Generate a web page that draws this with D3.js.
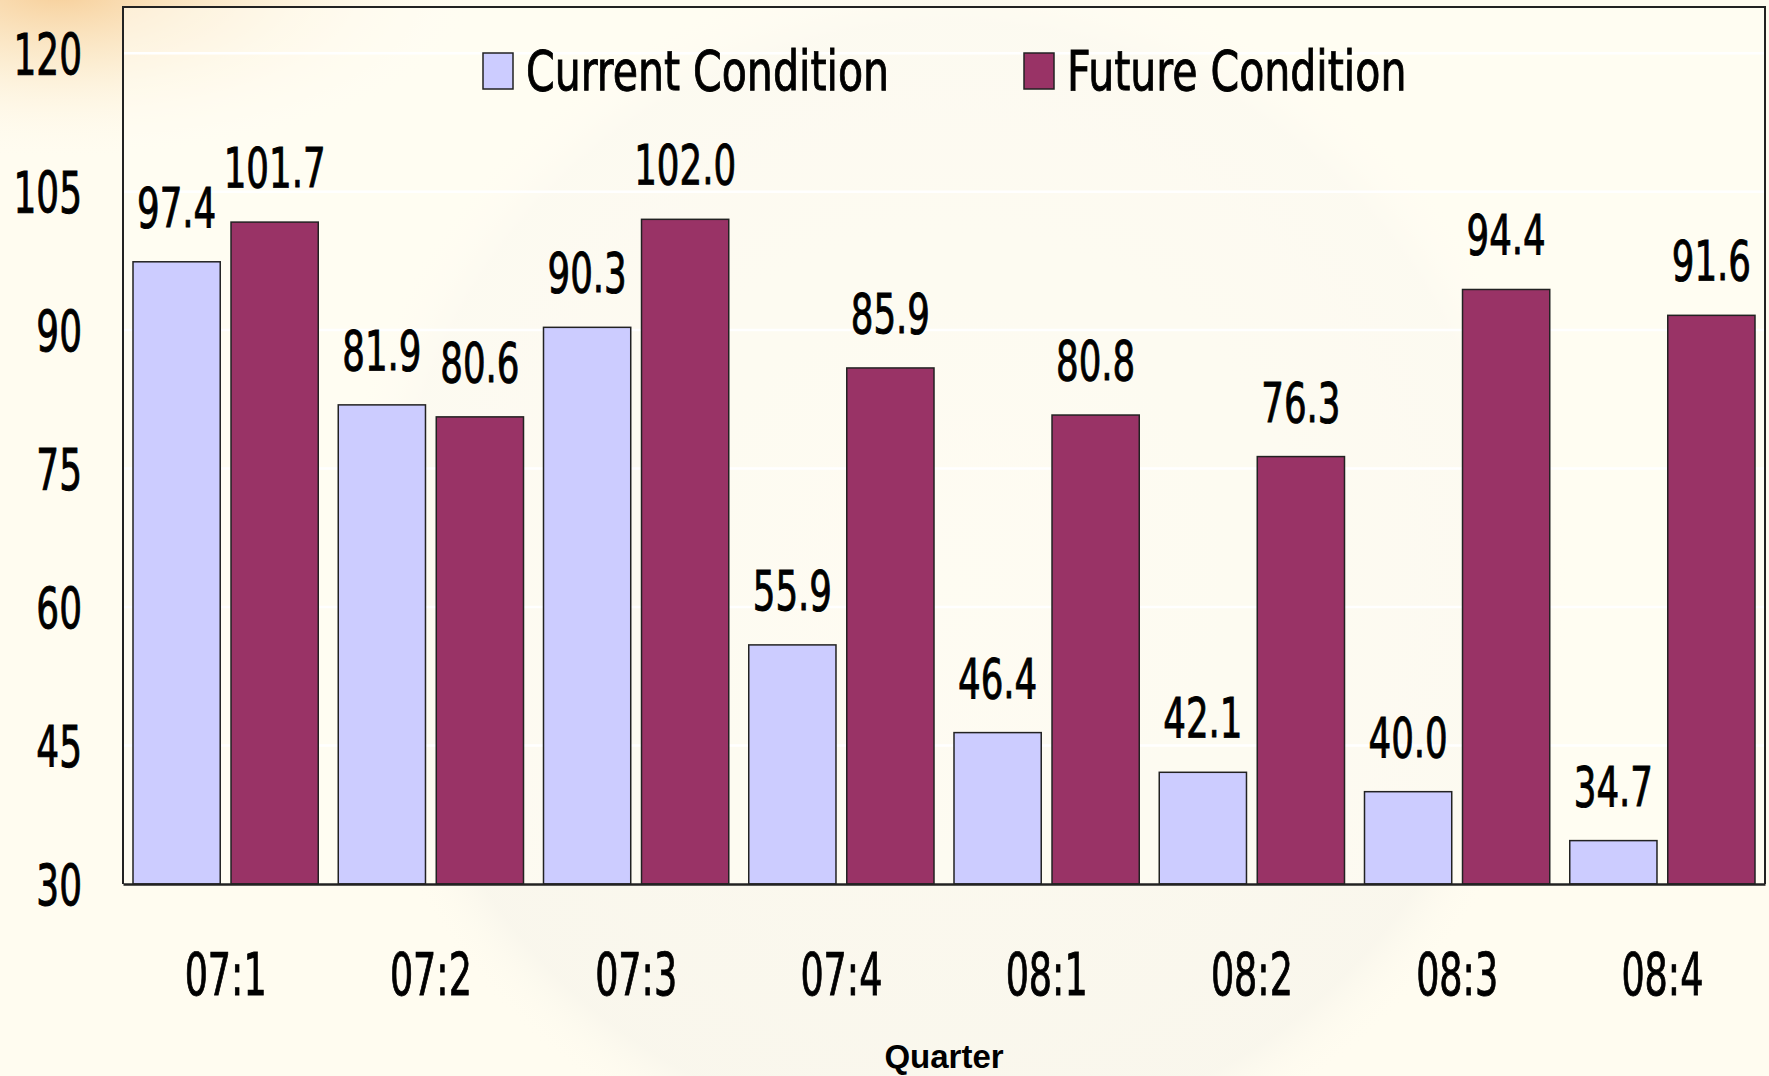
<!DOCTYPE html>
<html>
<head>
<meta charset="utf-8">
<script src="https://cdn.jsdelivr.net/npm/d3@7"></script>
<style>
  html, body { margin: 0; padding: 0; background: #fffcf0; }
  svg { display: block; }
  text { fill: #000; }
</style>
</head>
<body>
<div id="chart"></div>
<script>
const quarters = ['07:1', '07:2', '07:3', '07:4', '08:1', '08:2', '08:3', '08:4']
const currentCondition = [97.4, 81.9, 90.3, 55.9, 46.4, 42.1, 40.0, 34.7]
const futureCondition = [101.7, 80.6, 102.0, 85.9, 80.8, 76.3, 94.4, 91.6]
const seriesNames = ['Current Condition', 'Future Condition']
const yTicks = [30, 45, 60, 75, 90, 105, 120]

const W = 1769, H = 1076
const plotLeft = 123, plotRight = 1765, plotTop = 7, plotBottom = 884
const colors = {'Current Condition': '#ccccff', 'Future Condition': '#993366'}
const condensed = '"Liberation Sans Narrow", "DejaVu Sans Condensed", "Arial Narrow", sans-serif'

let svg = d3.select('#chart').append('svg')
    .attr('width', W)
    .attr('height', H)

// background: cream page with a warm glow top-left and a faint globe
let defs = svg.append('defs')
let glow = defs.append('radialGradient').attr('id', 'glow')
glow.append('stop').attr('offset', '0%').attr('stop-color', '#f6c98e').attr('stop-opacity', 0.9)
glow.append('stop').attr('offset', '45%').attr('stop-color', '#f9dfb5').attr('stop-opacity', 0.5)
glow.append('stop').attr('offset', '100%').attr('stop-color', '#fffcf0').attr('stop-opacity', 0)
let globe = defs.append('radialGradient').attr('id', 'globe')
globe.append('stop').attr('offset', '0%').attr('stop-color', '#efeeea').attr('stop-opacity', 0.15)
globe.append('stop').attr('offset', '90%').attr('stop-color', '#eceae4').attr('stop-opacity', 0.3)
globe.append('stop').attr('offset', '100%').attr('stop-color', '#fffcf0').attr('stop-opacity', 0)

svg.append('rect').attr('width', W).attr('height', H).attr('fill', '#fffcf0')
svg.append('ellipse').attr('cx', 950).attr('cy', 580).attr('rx', 620).attr('ry', 620)
    .attr('fill', 'url(#globe)')
svg.append('ellipse').attr('cx', 60).attr('cy', -10).attr('rx', 420).attr('ry', 170)
    .attr('fill', 'url(#glow)')

let xScale = d3.scaleBand().domain(quarters).range([plotLeft, plotRight]).padding(0)
let bw = xScale.bandwidth()
let xInner = d3.scaleBand().domain(seriesNames).range([10, bw - 10]).paddingInner(0.11)
let yScale = d3.scaleLinear().domain([30, 125]).range([plotBottom, plotTop])

// plot area fill, slightly lighter
svg.append('rect')
    .attr('x', plotLeft).attr('y', plotTop)
    .attr('width', plotRight - plotLeft).attr('height', plotBottom - plotTop)
    .attr('fill', '#fffdf4').attr('fill-opacity', 0.55)

// gridlines
svg.append('g').classed('grid', true)
    .selectAll('line')
    .data(yTicks.filter(d => d > 30))
    .join('line')
    .attr('x1', plotLeft).attr('x2', plotRight)
    .attr('y1', d => yScale(d)).attr('y2', d => yScale(d))
    .attr('stroke', '#ffffff')
    .attr('stroke-width', 2.5)

// squeezed text helper: the source font is narrower than anything installed
function squeezed(sel, sx) {
    return sel.attr('transform', function() {
        let x = +this.getAttribute('data-x'), y = +this.getAttribute('data-y')
        return 'translate(' + x + ',' + y + ') scale(' + sx + ',1)'
    })
    .style('stroke', '#000')
    .style('stroke-width', '0.9px')
}

let rows = quarters.map((q, i) => ({quarter: q, values: [
    {key: seriesNames[0], value: currentCondition[i]},
    {key: seriesNames[1], value: futureCondition[i]}
]}))

let groups = svg.append('g').classed('bars', true)
    .selectAll('g')
    .data(rows)
    .join('g')
    .attr('transform', d => 'translate(' + xScale(d.quarter) + ',0)')

groups.selectAll('rect')
    .data(d => d.values)
    .join('rect')
    .attr('x', d => xInner(d.key))
    .attr('y', d => yScale(d.value))
    .attr('width', xInner.bandwidth())
    .attr('height', d => yScale(30) - yScale(d.value))
    .attr('fill', d => colors[d.key])
    .attr('stroke', '#222')
    .attr('stroke-width', 1.5)

groups.selectAll('text')
    .data(d => d.values)
    .join('text')
    .attr('data-x', d => xInner(d.key) + xInner.bandwidth() / 2)
    .attr('data-y', d => yScale(d.value) - 35)
    .attr('text-anchor', 'middle')
    .style('font-family', condensed)
    .style('font-size', '55px')
    .text(d => d.value.toFixed(1))
    .call(squeezed, 0.72)

// frame
svg.append('path')
    .attr('d', 'M' + plotLeft + ',' + plotBottom + 'V' + plotTop + 'H' + plotRight + 'V' + plotBottom)
    .attr('fill', 'none')
    .attr('stroke', '#222')
    .attr('stroke-width', 2)

// x axis line and labels
let xAxis = svg.append('g').classed('x-axis', true)
    .attr('transform', 'translate(0,' + plotBottom + ')')
    .call(d3.axisBottom(xScale).tickSize(0).tickPadding(0))
xAxis.select('.domain').attr('stroke', '#222').attr('stroke-width', 2.5)
xAxis.selectAll('.tick text')
    .attr('y', 0).attr('dy', null)
    .attr('data-x', 0).attr('data-y', 111)
    .style('font-family', condensed)
    .style('font-size', '58px')
    .attr('fill', '#000')
    .call(squeezed, 0.7)

svg.append('text').classed('x-label', true)
    .text('Quarter')
    .attr('x', (plotLeft + plotRight) / 2)
    .attr('y', 1068)
    .attr('text-anchor', 'middle')
    .style('font-family', '"Liberation Sans", Arial, sans-serif')
    .style('font-weight', 'bold')
    .style('font-size', '33px')

// y axis labels
let yAxis = svg.append('g').classed('y-axis', true)
    .attr('transform', 'translate(' + plotLeft + ',0)')
    .call(d3.axisLeft(yScale).tickValues(yTicks).tickSize(0).tickPadding(0))
yAxis.select('.domain').remove()
yAxis.selectAll('.tick text')
    .attr('x', 0).attr('dy', null)
    .attr('data-x', -41).attr('data-y', 21)
    .attr('text-anchor', 'end')
    .style('font-family', condensed)
    .style('font-size', '57px')
    .attr('fill', '#000')
    .call(squeezed, 0.7)

// legend
let legendX = [483, 1024]
let legend = svg.append('g').classed('legend', true)
    .selectAll('g')
    .data(seriesNames)
    .join('g')
    .attr('transform', (d, i) => 'translate(' + legendX[i] + ',53)')
legend.append('rect')
    .attr('width', 30).attr('height', 36)
    .attr('fill', d => colors[d])
    .attr('stroke', '#222').attr('stroke-width', 1.5)
legend.append('text')
    .attr('data-x', 43).attr('data-y', 37)
    .style('font-family', condensed)
    .style('font-size', '55px')
    .text(d => d)
    .call(squeezed, 0.83)
</script>
</body>
</html>
